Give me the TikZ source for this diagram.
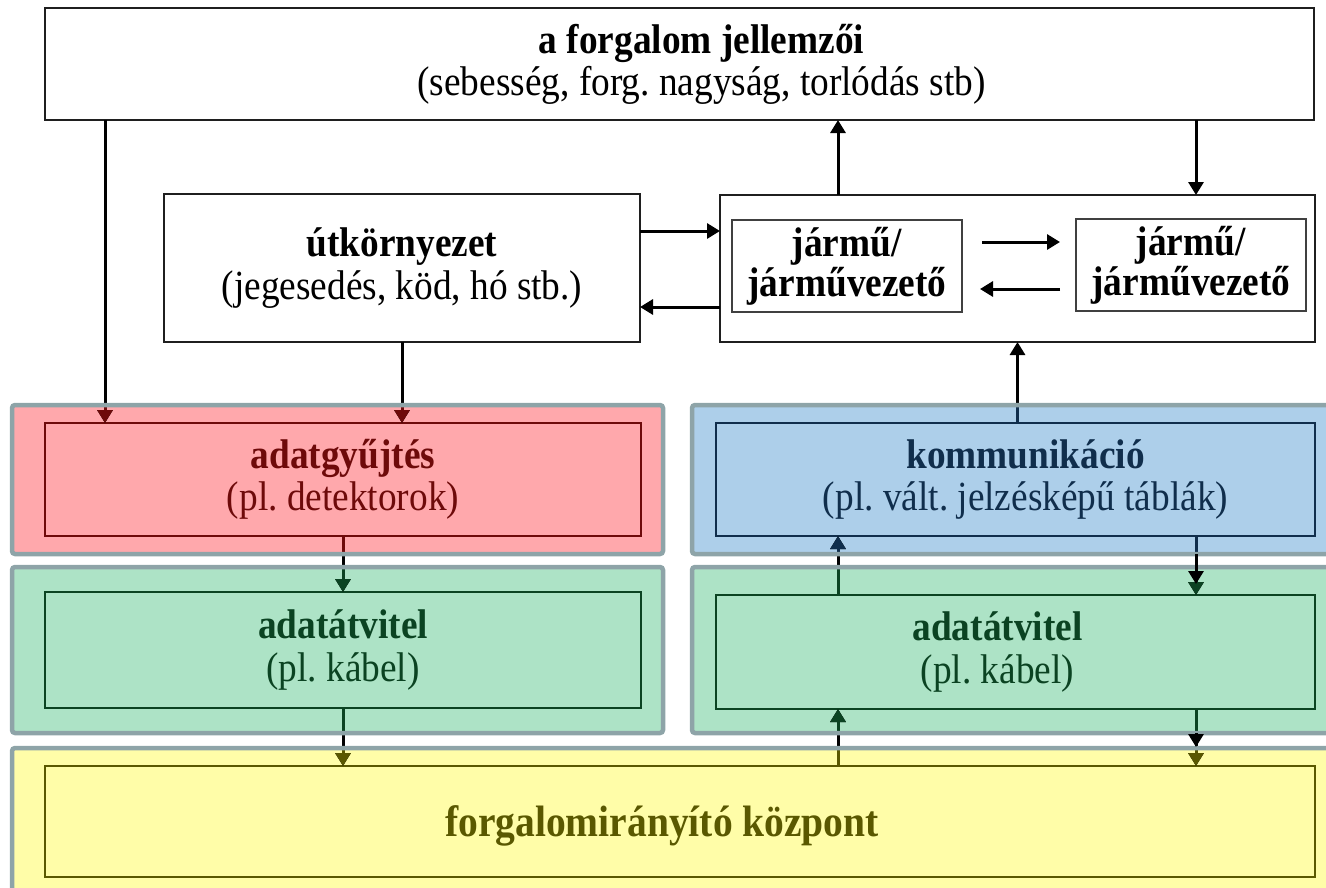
\documentclass[tikz,border=0pt]{standalone}
\usepackage{fontspec}
\setmainfont{Liberation Serif}[FakeStretch=0.9]
\usetikzlibrary{arrows.meta}
\frenchspacing
\newlength\pxu
\setlength\pxu{0.02cm}
\definecolor{redf}{HTML}{FFA8AC}
\definecolor{bluef}{HTML}{ADCFEA}
\definecolor{greenf}{HTML}{ADE3C6}
\definecolor{yellowf}{HTML}{FFFDA8}
\definecolor{dred}{HTML}{6E0A0A}
\definecolor{navy}{HTML}{102E4C}
\definecolor{dgreen}{HTML}{0B4322}
\definecolor{olive}{HTML}{5A5800}
\definecolor{rimgray}{HTML}{8EA4A8}
% wires that cross the coloured panels; drawn once in black and then
% once more, clipped to each panel, in that panel's colour
\newcommand\panelwires{%
  \draw[arr] (top.south -| xa) -- (redin.north -| xa);
  \draw[arr] (env.south) -- (redin.north -| env.south);
  \draw[arr] (redin.south) -- (grinL.north);
  \draw[arr] (grinL.south) -- (yin.north -| grinL.south);
  \draw[arr] (yin.north -| xc) -- (grinR.south -| xc);
  \draw[arr] (grinR.north -| xc) -- (bluein.south -| xc);
  \draw[arr] (bluein.south -| xd) -- (grinR.north -| xd);
  \draw[arr] (grinR.south -| xd) -- (yin.north -| xd);
  \draw[arr] (bluein.north -| veh.south) -- (veh.south);
}
\begin{document}
\begin{tikzpicture}[x=0.02cm,y=-0.02cm,
  txt/.style={font=\fontsize{23.6}{24}\selectfont, align=center, inner sep=0pt},
  vtxt/.style={font=\fontsize{23.6}{21.6}\selectfont, align=center, inner sep=0pt},
  plainbox/.style={draw=black!88, line width=2.2\pxu, fill=white,
    inner sep=0pt, outer sep=0pt},
  vehbox/.style={vtxt, draw=black!75, line width=1.6\pxu, fill=white,
    inner sep=0pt, outer sep=0pt, minimum width=230\pxu, minimum height=92\pxu},
  panel/.style={rounded corners=0.06cm, inner sep=0pt, outer sep=0pt},
  rim/.style={draw=rimgray, line width=4.5\pxu, rounded corners=0.06cm},
  inbox/.style={line width=2\pxu, inner sep=0pt, outer sep=0pt},
  arr/.style={line width=3\pxu, -{Triangle[length=0.26cm, width=0.3cm]}}]
\useasboundingbox (0,0) rectangle (1326,887);
\clip (0,0) rectangle (1326,887);

% column positions of the vertical wires
\coordinate (xa) at (105,0);
\coordinate (xc) at (838,0);
\coordinate (xd) at (1196,0);
\coordinate (ya) at (0,231);
\coordinate (yb) at (0,307);
\coordinate (yc) at (0,242);
\coordinate (yd) at (0,289);

% upper part: traffic, road environment, vehicles
\node[plainbox, minimum width=1269\pxu, minimum height=112\pxu] (top) at (679.5,64) {};
\node[txt] (toptext) at ([xshift=0.44cm]top.center)
  {\textbf{a forgalom jellemzői}\\(sebesség, forg. nagyság, torlódás stb)};
\node[plainbox, minimum width=476\pxu, minimum height=148\pxu] (env) at (402,268) {};
\node[txt] (envtext) at (env.center)
  {\textbf{útkörnyezet}\\(jegesedés, köd, hó stb.)};
\node[plainbox, minimum width=595\pxu, minimum height=147\pxu] (veh) at (1017.5,268.5) {};
\node[vehbox] (v1) at (847,266) {\textbf{jármű/}\\\textbf{járművezető}};
\node[vehbox] (v2) at (1191,265) {\textbf{jármű/}\\\textbf{járművezető}};

% coloured panels
\node[panel, fill=redf, minimum width=651\pxu, minimum height=149\pxu] (redp) at (337.5,479.5) {};
\node[panel, fill=bluef, minimum width=653\pxu, minimum height=149\pxu] (bluep) at (1018.5,479.5) {};
\node[panel, fill=greenf, minimum width=651\pxu, minimum height=166\pxu] (grLp) at (337.5,650) {};
\node[panel, fill=greenf, minimum width=653\pxu, minimum height=166\pxu] (grRp) at (1018.5,650) {};
\node[panel, fill=yellowf, minimum width=1333\pxu, minimum height=157\pxu] (yelp) at (678.5,826.5) {};

\node[inbox, draw=dred, minimum width=596\pxu, minimum height=113\pxu] (redin) at (343,479.5) {};
\node[txt, text=dred] (redtext) at (redin.center) {\textbf{adatgyűjtés}\\(pl. detektorok)};
\node[inbox, draw=navy, minimum width=599\pxu, minimum height=113\pxu] (bluein) at (1015.5,479.5) {};
\node[txt, text=navy] (bluetext) at ([xshift=0.2cm]bluein.center)
  {\textbf{kommunikáció}\\(pl. vált. jelzésképű táblák)};
\node[inbox, draw=dgreen, minimum width=596\pxu, minimum height=116\pxu] (grinL) at (343,650) {};
\node[txt, text=dgreen] (grLtext) at (grinL.center) {\textbf{adatátvitel}\\(pl. kábel)};
\node[inbox, draw=dgreen, minimum width=599\pxu, minimum height=114\pxu] (grinR) at (1015.5,652) {};
\node[txt, text=dgreen] (grRtext) at ([xshift=-0.36cm]grinR.center) {\textbf{adatátvitel}\\(pl. kábel)};
\node[inbox, draw=olive, minimum width=1270\pxu, minimum height=111\pxu] (yin) at (680,821.5) {};
\node[txt, text=olive, font=\fontsize{25}{24}\selectfont] (yeltext) at ([xshift=-0.36cm, yshift=-0.08cm]yin.center)
  {\textbf{forgalomirányító központ}};

% wires between the upper boxes
\draw[arr] (veh.north -| xc) -- (top.south -| xc);
\draw[arr] (top.south -| xd) -- (veh.north -| xd);
\draw[arr] (env.east |- ya) -- (veh.west |- ya);
\draw[arr] (veh.west |- yb) -- (env.east |- yb);
\draw[arr, shorten <=0.4cm, shorten >=0.32cm] (v1.east |- yc) -- (v2.west |- yc);
\draw[arr, shorten <=0.32cm, shorten >=0.36cm] (v2.west |- yd) -- (v1.east |- yd);

% wires through the panels, tinted inside each panel
\panelwires
\foreach \p/\c in {redp/dred, bluep/navy, grLp/dgreen, grRp/dgreen, yelp/olive}{
  \begin{scope}
    \clip (\p.north west) rectangle (\p.south east);
    \begin{scope}[color=\c]
      \panelwires
    \end{scope}
  \end{scope}
}

% panel rims on top of the wires
\foreach \p in {redp, bluep, grLp, grRp, yelp}{
  \draw[rim] (\p.north west) rectangle (\p.south east);
}

% second heads on the right-hand downward wires
\coordinate (ta) at (1196,584);
\coordinate (tb) at (1196,747);
\draw[arr] (bluep.south -| xd) -- (ta);
\draw[arr] (grRp.south -| xd) -- (tb);
\end{tikzpicture}
\end{document}
